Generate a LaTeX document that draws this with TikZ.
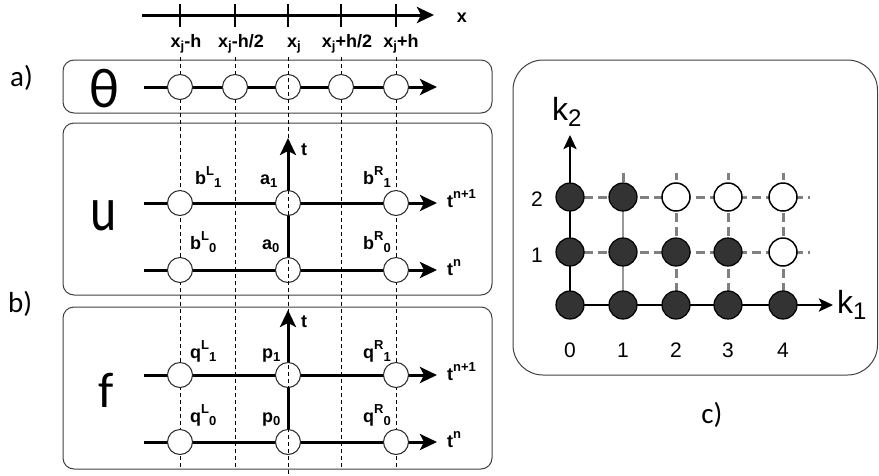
\documentclass[tikz,border=0pt]{standalone}
\usepackage{fontspec}
\setmainfont{Liberation Sans}
\newfontfamily\calfont{Carlito}
\usetikzlibrary{arrows.meta}
\newcommand\sps[1]{\raisebox{0.5em}{\fontsize{13}{13}\selectfont #1}}
\newcommand\sbs[1]{\raisebox{-0.22em}{\fontsize{13}{13}\selectfont #1}}
\begin{document}
\begin{tikzpicture}[x=1pt,y=-1pt,
  box/.style={draw=black!75, line width=1pt, rounded corners=11pt},
  guide/.style={draw=black, line width=0.8pt, dash pattern=on 4pt off 3pt},
  axis/.style={line width=3pt, -{Stealth[length=17pt,width=16pt,inset=4pt]}},
  tick/.style={line width=2.5pt},
  pt/.style={circle, draw=black!85, fill=white, line width=1pt, minimum size=25pt, inner sep=0pt},
  lbl/.style={font=\fontsize{18}{18}\selectfont\bfseries, inner sep=0pt},
  big/.style={font=\calfont, inner sep=0pt},
  gline/.style={draw=black!50, line width=3pt},
  gdash/.style={gline, dash pattern=on 9pt off 5pt},
  cax/.style={line width=2.5pt, -{Stealth[length=14pt,width=13pt,inset=3pt]}},
  fpt/.style={circle, draw=black, fill=black!80, line width=1.2pt, minimum size=28pt, inner sep=0pt},
  opt/.style={circle, draw=black, fill=white, line width=1.5pt, minimum size=28pt, inner sep=0pt},
  num/.style={font=\fontsize{21}{21}\selectfont, inner sep=0pt},
  klbl/.style={font=\fontsize{32}{32}\selectfont, inner sep=0pt}
]
\useasboundingbox (0,0) rectangle (879,475);
% boxes
\draw[box] (63,60) rectangle (492,113);
\draw[box] (63,123) rectangle (492,295);
\draw[box] (63,307) rectangle (492,469);
\draw[box, rounded corners=30pt] (513,60) rectangle (877.5,375);
% guides
\foreach \x in {180,235,341,396} \draw[guide] (\x,57) -- (\x,469);
% top axis
\coordinate (xs) at (142,15); \coordinate (xe) at (434,15);
\draw[axis] (xs) -- (xe);
\foreach \x in {180,235,288,341,396} \draw[tick] (\x,4) -- (\x,27);
\node[lbl, anchor=base] (xl) at (462,22) {x};
\node[lbl, anchor=base] (l1) at (186,47) {x\sbs{j}-h};
\node[lbl, anchor=base] (l2) at (241,47) {x\sbs{j}-h/2};
\node[lbl, anchor=base] (l3) at (294,47) {x\sbs{j}};
\node[lbl, anchor=base] (l4) at (347,47) {x\sbs{j}+h/2};
\node[lbl, anchor=base] (l5) at (401,47) {x\sbs{j}+h};
% side labels
\node[big, font=\calfont\fontsize{29}{29}\selectfont, anchor=base west] (la) at (10,86) {a)};
\node[big, font=\calfont\fontsize{29}{29}\selectfont, anchor=base west] (lb) at (8,312) {b)};
\node[big, font=\calfont\fontsize{29}{29}\selectfont, anchor=base] (lc) at (712,423) {c)};
% box a
\node[big, font=\calfont\fontsize{56}{56}\selectfont, anchor=base] (th) at (104,107) {θ};
\coordinate (as) at (144,87); \coordinate (ae) at (437,87);
\draw[axis] (as) -- (ae);
\foreach \x [count=\i] in {180,235,288,341,396} \node[pt] (a\i) at (\x,87) {};
% box u
\node[big, font=\calfont\fontsize{50}{50}\selectfont, anchor=base] (uu) at (104,230) {\scalebox{1}[1.25]{u}};
\coordinate (u1s) at (144,203); \coordinate (u1e) at (437,203);
\coordinate (u0s) at (144,270); \coordinate (u0e) at (437,270);
\coordinate (utb) at (288,270); \coordinate (ute) at (288,138);
\draw[axis] (utb) -- (ute);
\draw[axis] (u1s) -- (u1e);
\draw[axis] (u0s) -- (u0e);
\foreach \x/\n in {180/L,288/C,396/R} {\node[pt] (u1\n) at (\x,203) {}; \node[pt] (u0\n) at (\x,270) {};}
\node[lbl, anchor=base west] (ut) at (301,155) {t};
\node[lbl, anchor=base west] (ub1) at (195,184) {b\sps{L}\sbs{1}};
\node[lbl, anchor=base west] (ua1) at (260,184) {a\sbs{1}};
\node[lbl, anchor=base west] (uc1) at (363,184) {b\sps{R}\sbs{1}};
\node[lbl, anchor=base west] (ub0) at (190,249) {b\sps{L}\sbs{0}};
\node[lbl, anchor=base west] (ua0) at (262,249) {a\sbs{0}};
\node[lbl, anchor=base west] (uc0) at (363,249) {b\sps{R}\sbs{0}};
\node[lbl, anchor=base west] (utn1) at (447,207) {t\sps{n+1}};
\node[lbl, anchor=base west] (utn0) at (447,275) {t\sps{n}};
% box f
\node[big, font=\calfont\fontsize{50}{50}\selectfont, anchor=base] (ff) at (106,407) {f};
\coordinate (f1s) at (144,375); \coordinate (f1e) at (437,375);
\coordinate (f0s) at (144,442); \coordinate (f0e) at (437,442);
\coordinate (ftb) at (288,442); \coordinate (fte) at (288,310);
\draw[axis] (ftb) -- (fte);
\draw[axis] (f1s) -- (f1e);
\draw[axis] (f0s) -- (f0e);
\foreach \x/\n in {180/L,288/C,396/R} {\node[pt] (f1\n) at (\x,375) {}; \node[pt] (f0\n) at (\x,442) {};}
\node[lbl, anchor=base west] (ft) at (301,327) {t};
\node[lbl, anchor=base west] (fq1) at (190,358) {q\sps{L}\sbs{1}};
\node[lbl, anchor=base west] (fp1) at (262,358) {p\sbs{1}};
\node[lbl, anchor=base west] (fr1) at (363,358) {q\sps{R}\sbs{1}};
\node[lbl, anchor=base west] (fq0) at (190,422) {q\sps{L}\sbs{0}};
\node[lbl, anchor=base west] (fp0) at (262,422) {p\sbs{0}};
\node[lbl, anchor=base west] (fr0) at (363,422) {q\sps{R}\sbs{0}};
\node[lbl, anchor=base west] (ftn1) at (447,380) {t\sps{n+1}};
\node[lbl, anchor=base west] (ftn0) at (447,447) {t\sps{n}};
% central guide over circles
\draw[guide] (288,57) -- (288,475);
% box c
\foreach \j/\y in {1/252,2/197} \draw[gdash] (584,\y) -- (810,\y);
\draw[gline, draw=black!40, line width=2.2pt] (623,183) -- (623,305);
\draw[gdash] (623,173) -- (623,183);
\draw[gdash] (623,305) -- (623,313);
\foreach \x in {676,728,783} \draw[gdash, dash phase=2pt] (\x,173) -- (\x,313);
\coordinate (o) at (570,305);
\coordinate (k1e) at (833,305); \coordinate (k2e) at (570,135);
\draw[cax] (o) -- (k1e);
\draw[cax] (o) -- (k2e);
\foreach \x [count=\i from 0] in {570,623,676,728,783} {\node[fpt] (c0\i) at (\x,305) {};}
\node[fpt] (c10) at (570,252) {};
\node[fpt] (c11) at (623,252) {};
\node[fpt] (c12) at (676,252) {};
\node[fpt] (c13) at (728,252) {};
\node[opt] (c14) at (783,252) {};
\node[fpt] (c20) at (570,197) {};
\node[fpt] (c21) at (623,197) {};
\node[opt] (c22) at (676,197) {};
\node[opt] (c23) at (728,197) {};
\node[opt] (c24) at (783,197) {};
\foreach \x [count=\i from 0] in {570,623,676,728,783} \node[num, anchor=base] (n\i) at (\x,357) {\i};
\node[num] (m1) at (537,255) {1};
\node[num] (m2) at (537,199) {2};
\node[klbl, anchor=base west] (k1) at (837,313) {k\raisebox{-0.2em}{\fontsize{24}{24}\selectfont 1}};
\node[klbl, anchor=base west] (k2) at (552,120) {k\raisebox{-0.2em}{\fontsize{24}{24}\selectfont 2}};
\end{tikzpicture}
\end{document}
